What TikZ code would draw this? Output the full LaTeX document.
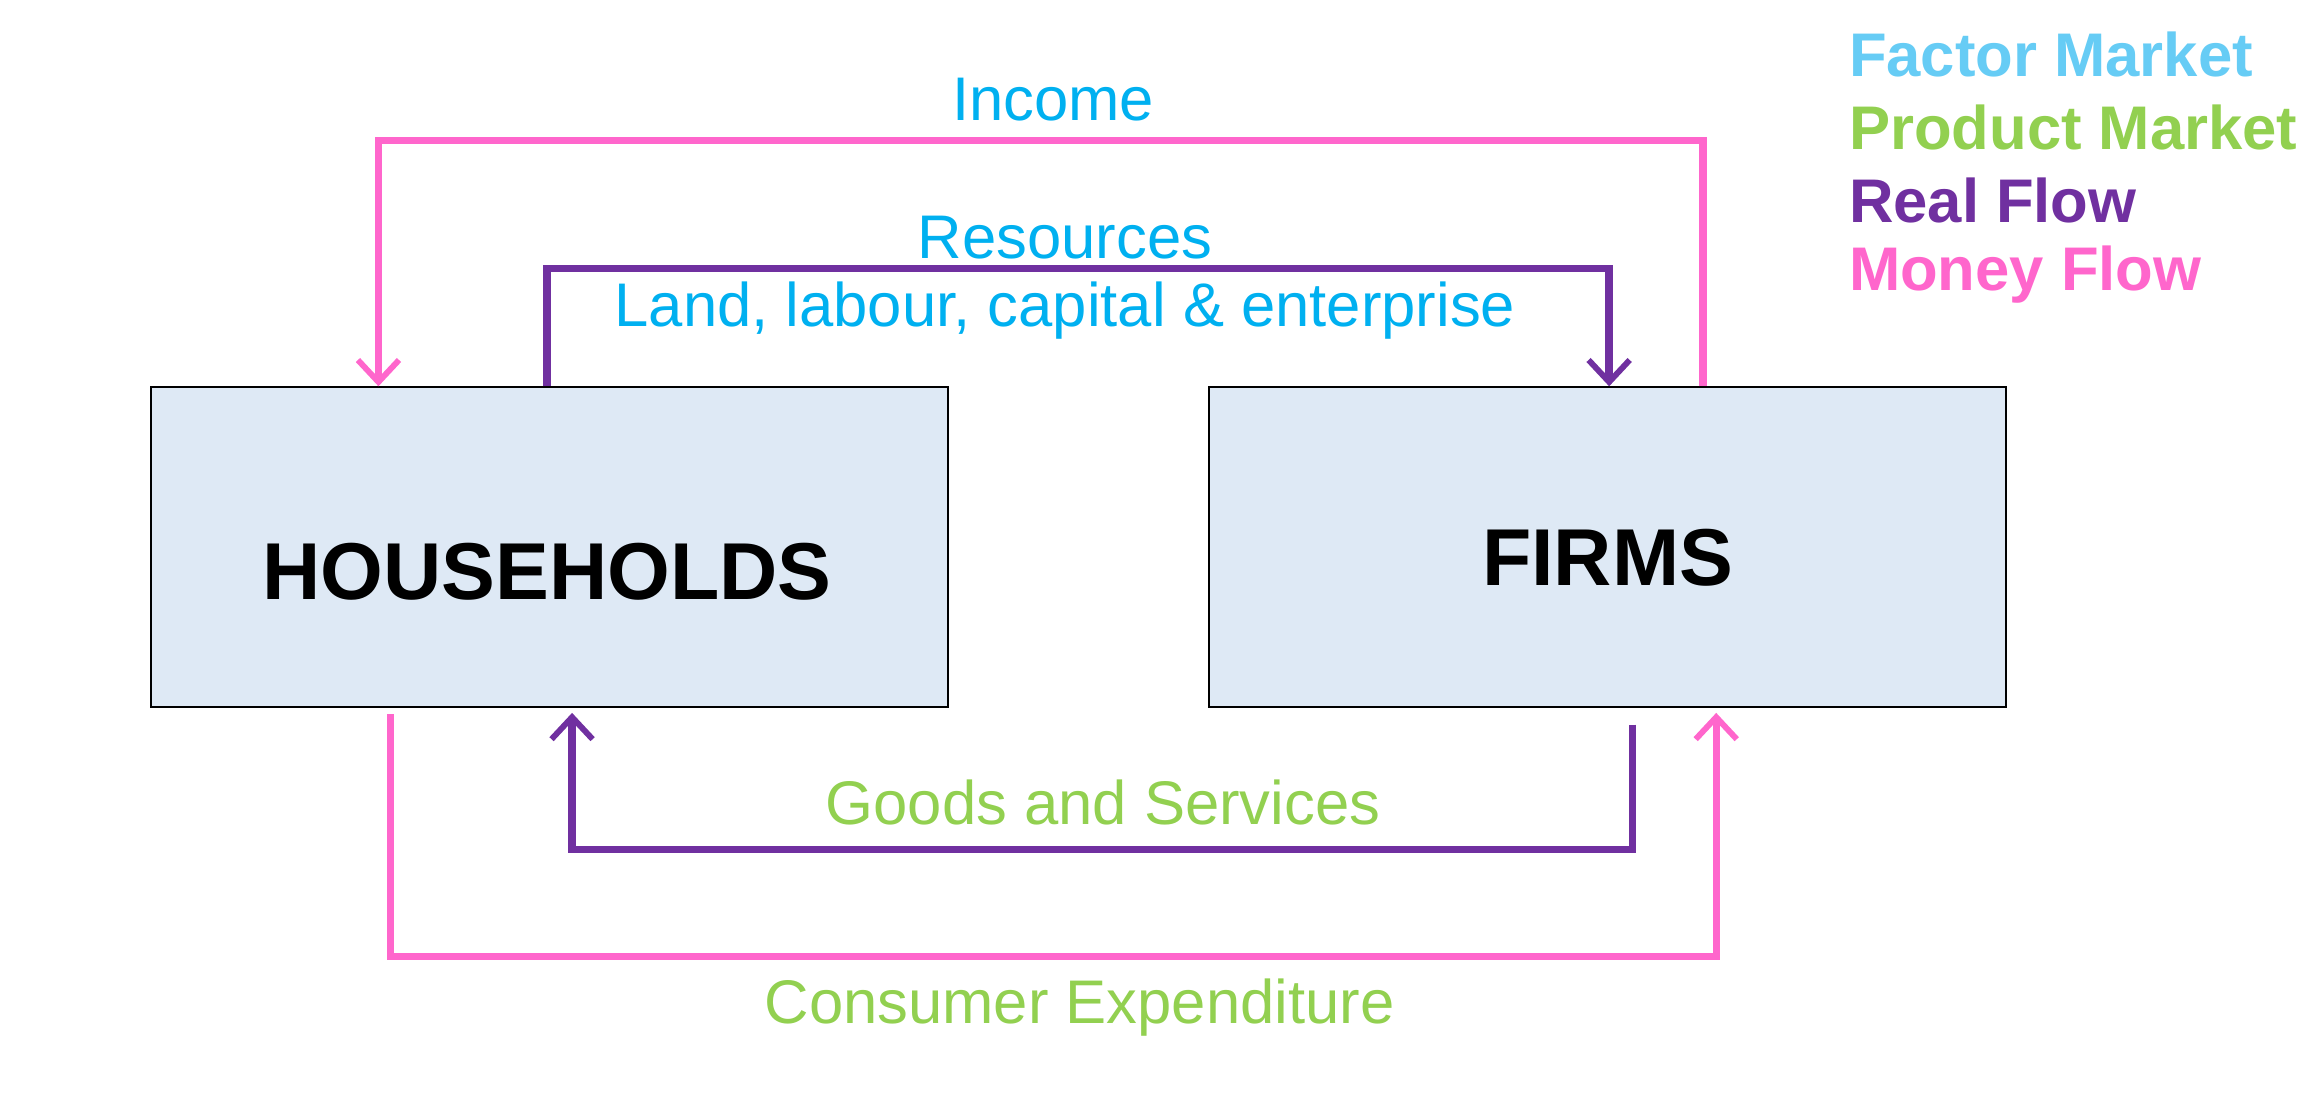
\documentclass[tikz,border=0pt]{standalone}
\usepackage{fontspec}
\setmainfont{Liberation Sans}
\usetikzlibrary{arrows.meta}
\definecolor{cyanT}{HTML}{00B0F0}
\definecolor{factorC}{HTML}{66CCF5}
\definecolor{greenT}{HTML}{92D050}
\definecolor{purpleL}{HTML}{7030A0}
\definecolor{pinkL}{HTML}{FF66CC}
\definecolor{boxF}{HTML}{DEE9F5}
\begin{document}
\begin{tikzpicture}[x=1pt,y=-1pt,
  box/.style={draw=black,line width=1.3pt,fill=boxF,minimum width=543pt,minimum height=218pt},
  big/.style={font=\fontsize{55}{60}\selectfont\bfseries},
  flow/.style={line width=5pt,line join=miter,-{Straight Barb[length=15pt,width=28pt,line width=4pt]}},
  lbl/.style={font=\fontsize{42}{48}\selectfont},
  leg/.style={font=\fontsize{42}{48}\selectfont\bfseries,anchor=west}]
\useasboundingbox (0,0) rectangle (1568,745);
\node[box] (hh) at (374.5,373) {};
\node[big] (hht) at (373,390) {HOUSEHOLDS};
\node[box] (fi) at (1096,373) {};
\node[big] (fit) at (1096,380) {FIRMS};
\coordinate (i1) at (1161,96); \coordinate (i2) at (258,96);
\draw[flow,pinkL] (fi.north -| 1161,0) -- (i1) -- (i2) -- (i2 |- hh.north);
\coordinate (r1) at (373,183); \coordinate (r2) at (1097,183);
\draw[flow,purpleL] (hh.north -| r1) -- (r1) -- (r2) -- (r2 |- fi.north);
\coordinate (g0) at (1113,494); \coordinate (g1) at (1113,579); \coordinate (g2) at (390,579);
\draw[flow,purpleL] (g0) -- (g1) -- (g2) -- (390,486);
\coordinate (c0) at (266,487); \coordinate (c1) at (266,652); \coordinate (c2) at (1170,652);
\draw[flow,pinkL] (c0) -- (c1) -- (c2) -- (1170,486);
\node[lbl,text=cyanT] (inc) at (718,68) {Income};
\node[lbl,text=cyanT] (res) at (726,162) {Resources};
\node[lbl,text=cyanT] (land) at (726,212) {Land, labour, capital \& enterprise};
\node[lbl,text=greenT] (gs) at (752,547) {Goods and Services};
\node[lbl,text=greenT] (ce) at (736,687) {Consumer Expenditure};
\node[leg,text=factorC] (l1) at (1257,37) {Factor Market};
\node[leg,text=greenT] (l2) at (1257,87) {Product Market};
\node[leg,text=purpleL] (l3) at (1257,137) {Real Flow};
\node[leg,text=pinkL] (l4) at (1257,187) {Money Flow};
\end{tikzpicture}
\end{document}
